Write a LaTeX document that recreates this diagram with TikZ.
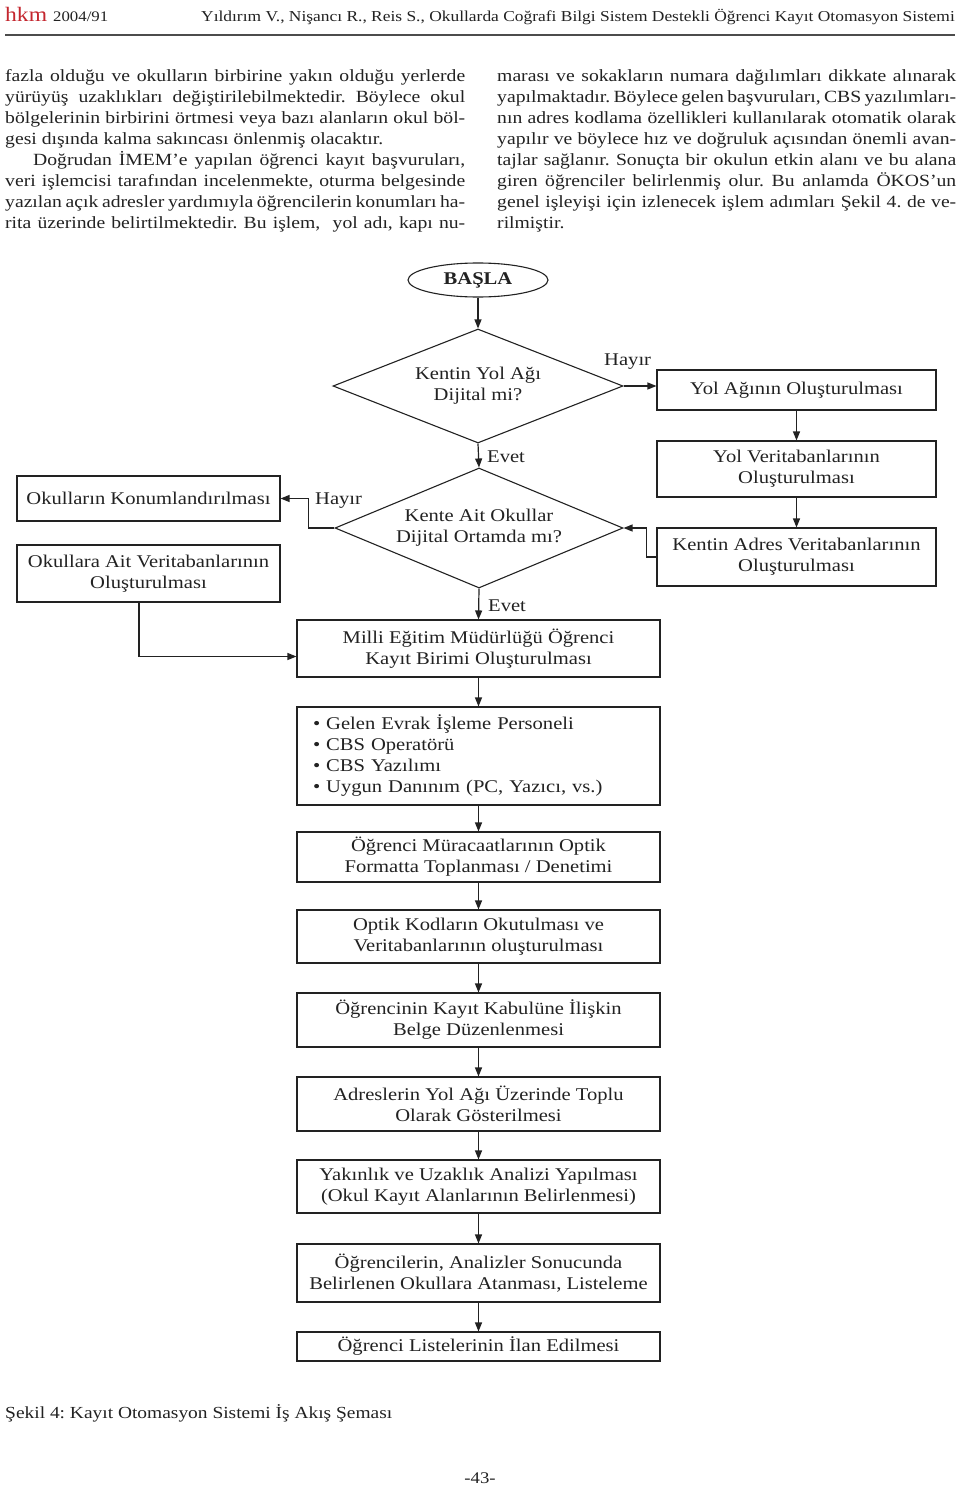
\documentclass[tikz,border=0pt]{standalone}
\usepackage{fontspec}
\setmainfont[FakeStretch=1.15]{Liberation Serif}
\usetikzlibrary{shapes.geometric,arrows.meta}
\definecolor{ink}{HTML}{222222}
\definecolor{hkmred}{HTML}{C4262E}
\newcommand\flowfont{\fontsize{17.9}{21}\selectfont}
\newcommand\bodyfont{\fontsize{17.1}{21}\selectfont}
\newcommand\jl[1]{\makebox[460pt][s]{#1}}
\newcommand\jr[1]{\makebox[459pt][s]{#1}}
\frenchspacing
\begin{document}
\begin{tikzpicture}[x=1pt,y=-1pt,
  box/.style={draw=ink, line width=1.1pt, rectangle, inner sep=0pt, align=center, font=\flowfont, text=ink},
  dia/.style={draw=ink, line width=1.1pt, diamond, aspect=2.5, inner sep=0pt, align=center, font=\flowfont, text=ink},
  arr/.style={draw=ink, line width=1.2pt, -{Triangle[length=9pt,width=7pt]}},
  lbl/.style={font=\flowfont, text=ink, inner sep=0pt},
  body/.style={font=\bodyfont, text=ink, inner sep=0pt, align=left, anchor=north west},
]
\useasboundingbox[fill=white] (0,0) rectangle (960,1485);

% header
\node[anchor=base west, inner sep=0pt, text=hkmred, font=\fontsize{20.5}{20}\selectfont] (hkm) at (5,22) {hkm};
\node[anchor=base west, inner sep=0pt, text=ink, font=\fontsize{14.6}{15}\selectfont] (yr) at (53,22) {2004/91};
\node[anchor=base east, inner sep=0pt, text=ink, font=\fontsize{15.15}{15}\selectfont] (ttl) at (955,22) {Yıldırım V., Nişancı R., Reis S., Okullarda Coğrafi Bilgi Sistem Destekli Öğrenci Kayıt Otomasyon Sistemi};
\draw[line width=1.5pt, color=black!70] (5,35) -- (955,35);

% body text
\node[body] (colL) at (5,69) {%
\jl{fazla olduğu ve okulların birbirine yakın olduğu yerlerde}\\
\jl{yürüyüş uzaklıkları değiştirilebilmektedir. Böylece okul}\\
\jl{bölgelerinin birbirini örtmesi veya bazı alanların okul böl-}\\
gesi dışında kalma sakıncası önlenmiş olacaktır.\\
\jl{\hspace*{28pt}Doğrudan İMEM’e yapılan öğrenci kayıt başvuruları,}\\
\jl{veri işlemcisi tarafından incelenmekte, oturma belgesinde}\\
\jl{yazılan açık adresler yardımıyla öğrencilerin konumları ha-}\\
\jl{rita üzerinde belirtilmektedir. Bu işlem, \ yol adı, kapı nu-}};
\node[body] (colR) at (497,69) {%
\jr{marası ve sokakların numara dağılımları dikkate alınarak}\\
\jr{\spaceskip=0.2em plus 1em minus 0.05em yapılmaktadır. Böylece gelen başvuruları, CBS yazılımları-}\\
\jr{nın adres kodlama özellikleri kullanılarak otomatik olarak}\\
\jr{yapılır ve böylece hız ve doğruluk açısından önemli avan-}\\
\jr{tajlar sağlanır. Sonuçta bir okulun etkin alanı ve bu alana}\\
\jr{giren öğrenciler belirlenmiş olur. Bu anlamda ÖKOS’un}\\
\jr{genel işleyişi için izlenecek işlem adımları Şekil 4. de ve-}\\
rilmiştir.};

% flowchart nodes
\node[draw=ink, line width=1.1pt, ellipse, minimum width=140pt, minimum height=34pt, inner sep=0pt, font=\flowfont\bfseries, text=ink] (basla) at (478,280) {BAŞLA};
\node[dia, minimum width=290pt, minimum height=114pt] (d1) at (478,386) {Kentin Yol Ağı\\Dijital mi?};
\node[box, minimum width=279pt, minimum height=40pt] (yol) at (796.5,390) {Yol Ağının Oluşturulması};
\node[box, minimum width=279pt, minimum height=56pt] (yolvt) at (796.5,469) {Yol Veritabanlarının\\Oluşturulması};
\node[box, minimum width=279pt, minimum height=58pt] (adres) at (796.5,557) {Kentin Adres Veritabanlarının\\Oluşturulması};
\node[dia, minimum width=288pt, minimum height=120pt] (d2) at (479,528) {Kente Ait Okullar\\Dijital Ortamda mı?};
\node[box, minimum width=263pt, minimum height=45pt] (konum) at (148.5,498.5) {Okulların Konumlandırılması};
\node[box, minimum width=263pt, minimum height=57pt] (okulvt) at (148.5,573.5) {Okullara Ait Veritabanlarının\\Oluşturulması};
\node[box, minimum width=363pt, minimum height=57pt] (milli) at (478.5,648.5) {Milli Eğitim Müdürlüğü Öğrenci\\Kayıt Birimi Oluşturulması};
\node[box, minimum width=363pt, minimum height=98pt, align=left, text width=331pt] (kaynak) at (478.5,756) {%
• Gelen Evrak İşleme Personeli\\
• CBS Operatörü\\
• CBS Yazılımı\\
• Uygun Danınım (PC, Yazıcı, vs.)};
\node[box, minimum width=363pt, minimum height=50pt] (mura) at (478.5,857) {Öğrenci Müracaatlarının Optik\\Formatta Toplanması / Denetimi};
\node[box, minimum width=363pt, minimum height=53pt] (optik) at (478.5,936.5) {Optik Kodların Okutulması ve\\Veritabanlarının oluşturulması};
\node[box, minimum width=363pt, minimum height=54pt] (kabul) at (478.5,1020) {Öğrencinin Kayıt Kabulüne İlişkin\\Belge Düzenlenmesi};
\node[box, minimum width=363pt, minimum height=54pt] (adr) at (478.5,1104) {Adreslerin Yol Ağı Üzerinde Toplu\\Olarak Gösterilmesi};
\node[box, minimum width=363pt, minimum height=53pt] (yak) at (478.5,1186.5) {Yakınlık ve Uzaklık Analizi Yapılması\\(Okul Kayıt Alanlarının Belirlenmesi)};
\node[box, minimum width=363pt, minimum height=58pt] (ata) at (478.5,1273) {Öğrencilerin, Analizler Sonucunda\\Belirlenen Okullara Atanması, Listeleme};
\node[box, minimum width=363pt, minimum height=29pt] (ilan) at (478.5,1346.5) {Öğrenci Listelerinin İlan Edilmesi};

% labels
\node[lbl, anchor=west] (h1) at (604,362) {Hayır};
\node[lbl, anchor=west] (e1) at (487,457) {Evet};
\node[lbl, anchor=west] (h2) at (315,501) {Hayır};
\node[lbl, anchor=west] (e2) at (488,606) {Evet};

% connectors
\draw[arr] (basla.south) -- (d1.north);
\draw[arr] (d1.east) -- (d1.east -| yol.west);
\draw[arr] (yol.south) -- (yolvt.north);
\draw[arr] (yolvt.south) -- (adres.north);
\draw[arr] (adres.west) -- ++(-10,0) |- (d2.east);
\draw[arr] (d1.south) -- (d2.north);
\draw[arr] (d2.west) -- ++(-26,0) |- (konum.east);
\draw[arr] (d2.south) -- (milli.north);
\draw[arr] ([xshift=-9.5pt]okulvt.south) |- ([yshift=-8pt]milli.west);
\draw[arr] (milli.south) -- (kaynak.north);
\draw[arr] (kaynak.south) -- (mura.north);
\draw[arr] (mura.south) -- (optik.north);
\draw[arr] (optik.south) -- (kabul.north);
\draw[arr] (kabul.south) -- (adr.north);
\draw[arr] (adr.south) -- (yak.north);
\draw[arr] (yak.south) -- (ata.north);
\draw[arr] (ata.south) -- (ilan.north);

% caption and page number
\node[anchor=west, inner sep=0pt, text=ink, font=\fontsize{16.9}{17}\selectfont] (cap) at (5,1413) {Şekil 4: Kayıt Otomasyon Sistemi İş Akış Şeması};
\node[inner sep=0pt, text=ink, font=\fontsize{16.3}{16}\selectfont] (pg) at (480,1478) {-43-};
\end{tikzpicture}
\end{document}
